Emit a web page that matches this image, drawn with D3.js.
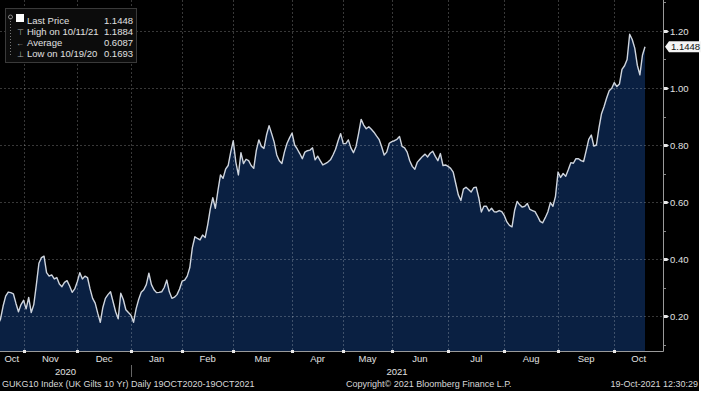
<!DOCTYPE html>
<html>
  <head>
    <meta charset="utf-8">
    <title>GUKG10 Index</title>
    <script src="https://cdnjs.cloudflare.com/ajax/libs/d3/7.8.5/d3.min.js"></script>
    <style>
      body { margin: 0; background-color: #FFF; }
      svg { display: block; }
      text { font-family: "Liberation Sans", Arial, sans-serif; }
    </style>
  </head>
  <body>
    <svg width="711" height="396"></svg>
    <script>
      // trading days: weekdays minus UK bank holidays
      var startDay = "2020-10-19", endDay = "2021-10-19";
      var holidays = ["2020-12-25","2020-12-28","2021-01-01","2021-04-02",
                      "2021-04-05","2021-05-03","2021-05-31","2021-08-30"];

      // UK 10y gilt yield (one value per trading day)
      var yieldValues = [
        0.1693,0.19,0.235,0.27,0.284,0.282,0.278,0.245,0.215,0.24,
        0.255,0.225,0.265,0.212,0.24,0.31,0.385,0.405,0.41,0.352,
        0.34,0.344,0.33,0.335,0.312,0.303,0.318,0.324,0.305,0.283,
        0.295,0.32,0.352,0.33,0.34,0.335,0.295,0.262,0.245,0.21,
        0.178,0.23,0.262,0.275,0.285,0.25,0.215,0.19,0.28,0.258,
        0.222,0.212,0.203,0.178,0.225,0.258,0.283,0.292,0.31,0.35,
        0.31,0.292,0.282,0.283,0.285,0.30,0.326,0.285,0.262,0.266,
        0.275,0.295,0.322,0.326,0.34,0.37,0.44,0.478,0.472,0.467,
        0.484,0.475,0.52,0.575,0.615,0.578,0.64,0.695,0.683,0.715,
        0.728,0.775,0.815,0.74,0.695,0.773,0.735,0.75,0.745,0.728,
        0.718,0.78,0.818,0.795,0.788,0.835,0.868,0.84,0.81,0.765,
        0.745,0.735,0.775,0.805,0.825,0.842,0.80,0.786,0.77,0.752,
        0.775,0.78,0.782,0.79,0.748,0.761,0.745,0.73,0.735,0.74,
        0.748,0.765,0.785,0.815,0.84,0.805,0.805,0.818,0.79,0.773,
        0.795,0.84,0.89,0.87,0.857,0.864,0.855,0.845,0.832,0.82,
        0.795,0.765,0.775,0.806,0.812,0.815,0.82,0.83,0.795,0.79,
        0.775,0.745,0.725,0.715,0.74,0.75,0.76,0.768,0.758,0.771,
        0.778,0.76,0.745,0.77,0.728,0.73,0.725,0.718,0.705,0.665,
        0.625,0.605,0.645,0.652,0.644,0.635,0.65,0.652,0.615,0.565,
        0.585,0.585,0.568,0.578,0.566,0.565,0.57,0.566,0.552,0.53,
        0.518,0.513,0.57,0.602,0.59,0.582,0.585,0.595,0.574,0.57,
        0.566,0.55,0.532,0.527,0.545,0.565,0.598,0.585,0.62,0.705,
        0.686,0.70,0.69,0.713,0.738,0.736,0.752,0.752,0.745,0.742,
        0.78,0.82,0.835,0.796,0.80,0.86,0.91,0.935,0.965,0.99,
        0.999,1.019,1.005,1.014,1.065,1.078,1.10,1.1884,1.17,1.14,
        1.08,1.046,1.115,1.1448
      ];

      var yTicks = [0.2, 0.4, 0.6, 0.8, 1.0, 1.2];
      var yMinorTicks = [0.1, 0.3, 0.5, 0.7, 0.9, 1.1, 1.3];
      var legendLabels = ["Last Price", "High on 10/11/21", "Average", "Low on 10/19/20"];
      var legendValues = ["1.1448", "1.1884", "0.6087", "0.1693"];
      var lastLabel = "1.1448";
      var footerLeft = "GUKG10 Index (UK Gilts 10 Yr)  Daily 19OCT2020-19OCT2021";
      var footerMid = "Copyright\u00A9 2021 Bloomberg Finance L.P.";
      var footerRight = "19-Oct-2021 12:30:29";

      var parse = d3.timeParse("%Y-%m-%d");
      var fmt = d3.timeFormat("%Y-%m-%d");
      var dates = d3.timeDay.range(parse(startDay), d3.timeDay.offset(parse(endDay), 1))
        .filter(function(d) {
          return d.getDay() != 0 && d.getDay() != 6 && holidays.indexOf(fmt(d)) < 0;
        });

      var W = 711, H = 396;
      var plotRight = 663, plotBottom = 351;

      var svg = d3.select("svg");
      svg.append("rect").attr("width", 699).attr("height", 391).attr("fill", "#000");

      var x = d3.scaleLinear().domain([0, yieldValues.length - 1]).range([-2, 645]);
      var y = d3.scaleLinear().domain([0.2, 1.2]).range([316, 31]);

      svg.append("clipPath").attr("id", "plot")
        .append("rect").attr("x", 0).attr("y", 0).attr("width", plotRight).attr("height", plotBottom);

      var plot = svg.append("g").attr("clip-path", "url(#plot)");

      var area = d3.area()
        .x(function(d, i) { return x(i) })
        .y0(plotBottom)
        .y1(function(d) { return y(d) });

      var line = d3.line()
        .x(function(d, i) { return x(i) })
        .y(function(d) { return y(d) });

      plot.append("path").datum(yieldValues)
        .attr("d", area)
        .attr("fill", "#0a2042");

      // month starts
      var monthIdx = [];
      dates.forEach(function(d, i) {
        if (i == 0 || d.getMonth() != dates[i - 1].getMonth()) monthIdx.push(i);
      });
      var tickIdx = monthIdx.slice(1);

      // grid
      plot.selectAll(".hgrid").data(yTicks).enter().append("line")
        .attr("x1", 0).attr("x2", plotRight)
        .attr("y1", function(d) { return Math.round(y(d)) + 0.5 })
        .attr("y2", function(d) { return Math.round(y(d)) + 0.5 })
        .attr("stroke", "rgba(255,255,255,0.22)")
        .attr("stroke-dasharray", "2,2");

      plot.selectAll(".vgrid").data(tickIdx).enter().append("line")
        .attr("x1", function(d) { return Math.round(x(d)) + 0.5 })
        .attr("x2", function(d) { return Math.round(x(d)) + 0.5 })
        .attr("y1", 0).attr("y2", plotBottom)
        .attr("stroke", "rgba(255,255,255,0.22)")
        .attr("stroke-dasharray", "2,2");

      plot.append("path").datum(yieldValues)
        .attr("d", line)
        .attr("fill", "none")
        .attr("stroke", "#cfd5de")
        .attr("stroke-width", 1.4)
        .attr("stroke-linejoin", "round");

      // axes frame
      svg.append("line").attr("x1", plotRight + 0.5).attr("x2", plotRight + 0.5)
        .attr("y1", 0).attr("y2", plotBottom + 0.5).attr("stroke", "#9a9a9a");
      svg.append("line").attr("x1", 0).attr("x2", plotRight + 0.5)
        .attr("y1", plotBottom + 0.5).attr("y2", plotBottom + 0.5).attr("stroke", "#9a9a9a");

      // y axis on the right
      var yAxis = svg.append("g");
      yAxis.selectAll(".maj").data(yTicks).enter().append("path")
        .attr("d", function(d) {
          var yy = Math.round(y(d)) + 0.5;
          return "M" + (plotRight + 1) + "," + (yy - 1.5) + "h3l2,1.5l-2,1.5h-3z";
        })
        .attr("fill", "#e8e8e8");
      yAxis.selectAll(".mnr").data(yMinorTicks).enter().append("line")
        .attr("x1", plotRight + 1).attr("x2", plotRight + 3)
        .attr("y1", function(d) { return Math.round(y(d)) + 0.5 })
        .attr("y2", function(d) { return Math.round(y(d)) + 0.5 })
        .attr("stroke", "#888");
      yAxis.selectAll("text").data(yTicks).enter().append("text")
        .attr("x", plotRight + 7)
        .attr("y", function(d) { return y(d) + 3.5 })
        .attr("font-size", 9.5)
        .attr("fill", "#e0e0e0")
        .text(function(d) { return d3.format(".2f")(d) });

      // last price tag
      var ly = y(yieldValues[yieldValues.length - 1]);
      svg.append("path")
        .attr("d", "M" + (plotRight + 2) + "," + ly + "l4,-5.5h32v11h-32z")
        .attr("fill", "#f4f4f4");
      svg.append("text")
        .attr("x", plotRight + 8).attr("y", ly + 3.5)
        .attr("font-size", 9.5).attr("fill", "#111")
        .text(lastLabel);

      // x axis: month ticks and labels
      var bounds = [0].concat(tickIdx.map(function(d) { return x(d) })).concat([plotRight]);
      svg.selectAll(".xtick").data(tickIdx).enter().append("rect")
        .attr("x", function(d) { return Math.round(x(d)) - 1 })
        .attr("y", plotBottom - 1)
        .attr("width", 3).attr("height", 3)
        .attr("fill", "#e8e8e8");

      svg.selectAll(".mlab").data(monthIdx).enter().append("text")
        .attr("x", function(d, i) { return (bounds[i] + bounds[i + 1]) / 2 })
        .attr("y", 362)
        .attr("text-anchor", "middle")
        .attr("font-size", 9.5)
        .attr("fill", "#e0e0e0")
        .text(function(d) { return d3.timeFormat("%b")(dates[d]) });

      // years
      var janIdx = tickIdx.filter(function(d) { return dates[d].getMonth() == 0 })[0];
      var xJan = x(janIdx);
      var years = [
        { label: d3.timeFormat("%Y")(dates[0]), x: xJan / 2 },
        { label: d3.timeFormat("%Y")(dates[dates.length - 1]), x: (xJan + plotRight) / 2 }
      ];
      svg.selectAll(".ylab").data(years).enter().append("text")
        .attr("x", function(d) { return d.x })
        .attr("y", 375)
        .attr("text-anchor", "middle")
        .attr("font-size", 9.5)
        .attr("fill", "#e0e0e0")
        .text(function(d) { return d.label });
      svg.append("line")
        .attr("x1", Math.round(xJan) + 0.5).attr("x2", Math.round(xJan) + 0.5)
        .attr("y1", 365).attr("y2", 377)
        .attr("stroke", "#666");

      // footer
      svg.append("text").attr("x", 2).attr("y", 387)
        .attr("font-size", 9).attr("fill", "#d8d8d8").text(footerLeft);
      svg.append("text").attr("x", 346).attr("y", 387)
        .attr("font-size", 9).attr("fill", "#d8d8d8").text(footerMid);
      svg.append("text").attr("x", 698).attr("y", 387).attr("text-anchor", "end")
        .attr("font-size", 9).attr("fill", "#d8d8d8").text(footerRight);

      // legend
      var lg = svg.append("g");
      lg.append("rect").attr("x", 5.5).attr("y", 8.5).attr("width", 131).attr("height", 54)
        .attr("fill", "#0c0c0c").attr("stroke", "#3a3a3a");
      lg.append("line").attr("x1", 10.5).attr("x2", 10.5).attr("y1", 18).attr("y2", 56)
        .attr("stroke", "#777").attr("stroke-dasharray", "1,2");
      lg.append("circle").attr("cx", 10.5).attr("cy", 17).attr("r", 2)
        .attr("fill", "none").attr("stroke", "#888");
      lg.append("rect").attr("x", 16).attr("y", 14).attr("width", 8).attr("height", 8).attr("fill", "#fff");
      var icons = ["", "\u22A4", "\u2190", "\u22A5"];
      lg.selectAll(".ic").data(icons).enter().append("text")
        .attr("x", 20).attr("y", function(d, i) { return 24 + i * 11 })
        .attr("text-anchor", "middle")
        .attr("font-size", 8).attr("fill", "#aaa")
        .text(function(d) { return d });
      lg.selectAll(".ll").data(legendLabels).enter().append("text")
        .attr("x", 27).attr("y", function(d, i) { return 24 + i * 11 })
        .attr("font-size", 9.5).attr("fill", "#e0e0e0")
        .text(function(d) { return d });
      lg.selectAll(".lv").data(legendValues).enter().append("text")
        .attr("x", 133).attr("y", function(d, i) { return 24 + i * 11 })
        .attr("text-anchor", "end")
        .attr("font-size", 9.5).attr("fill", "#e0e0e0")
        .text(function(d) { return d });
    </script>
  </body>
</html>
